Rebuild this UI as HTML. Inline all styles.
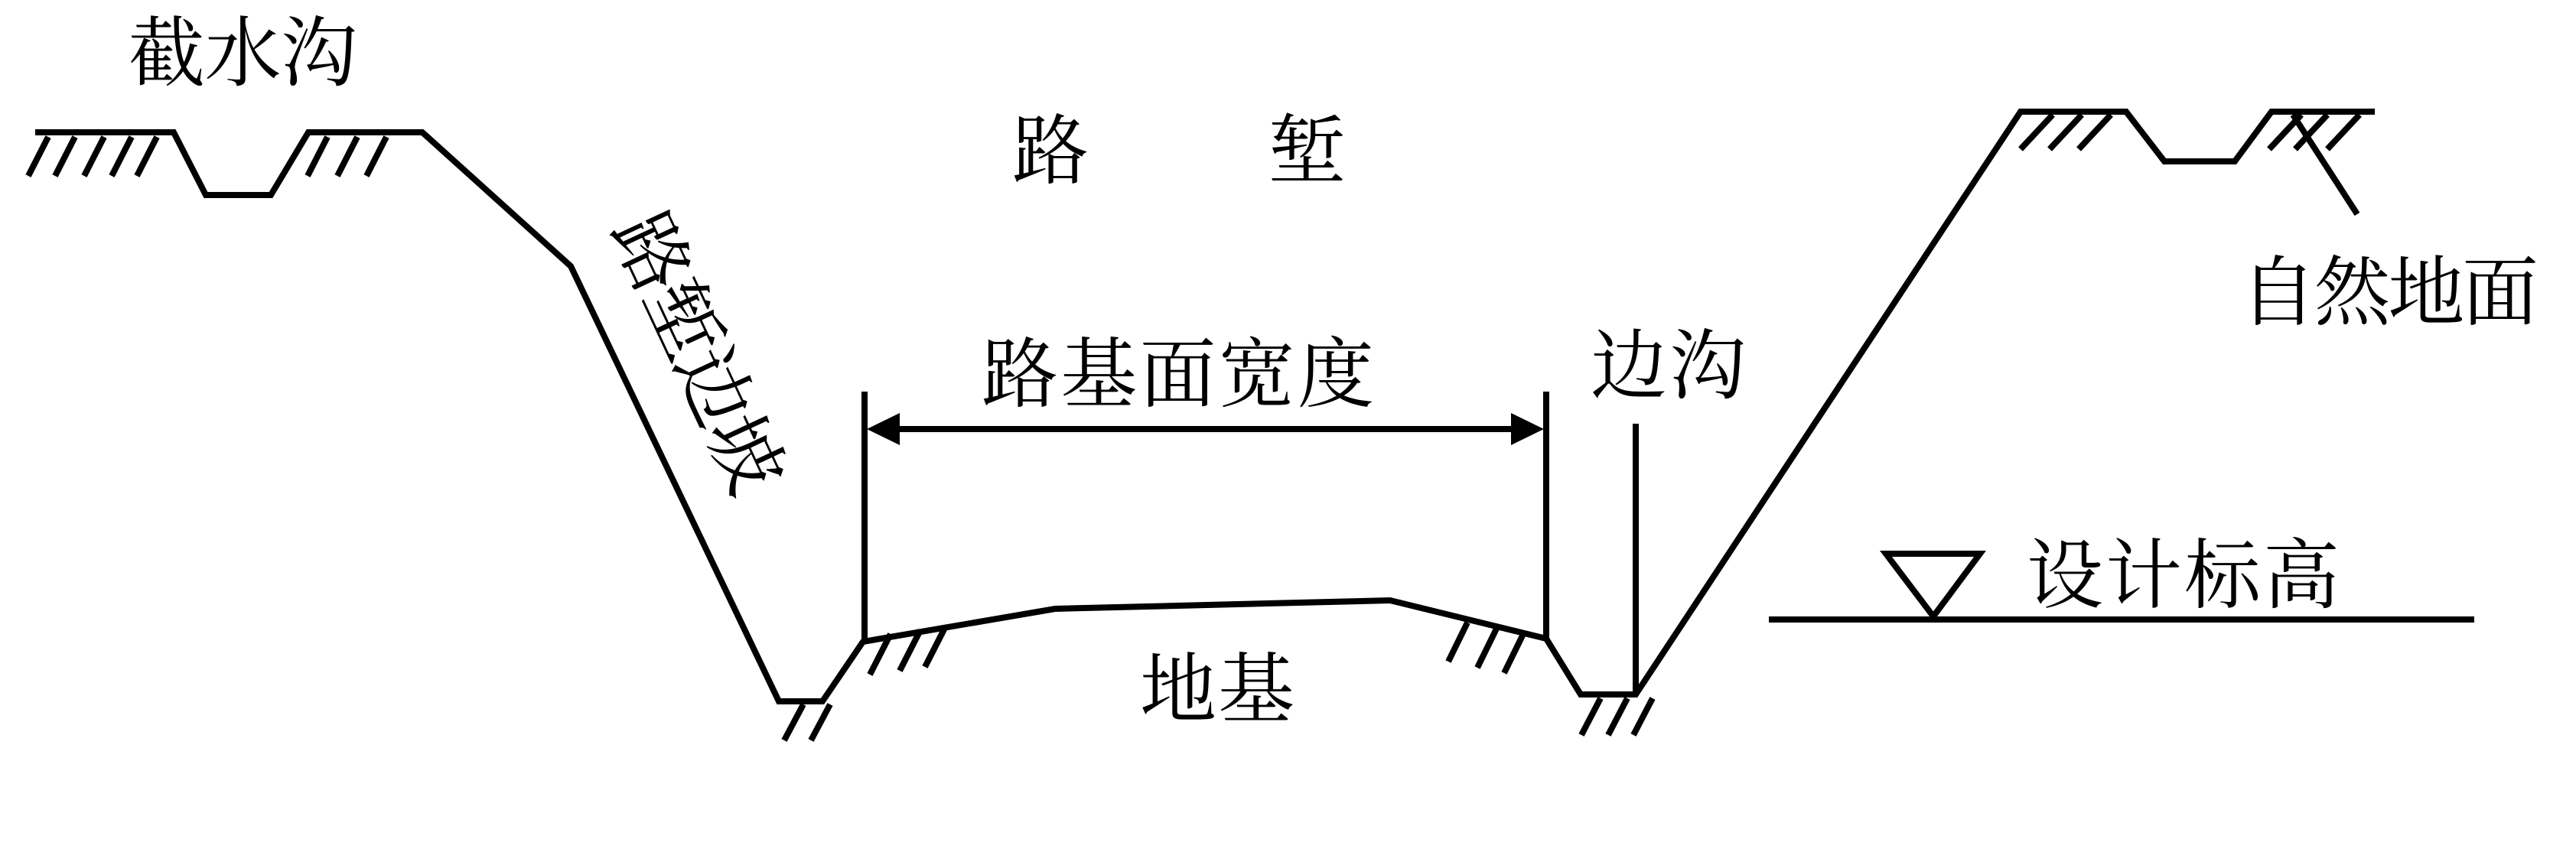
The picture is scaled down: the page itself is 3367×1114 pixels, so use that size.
<!DOCTYPE html>
<html><head><meta charset="utf-8"><style>
html,body{margin:0;padding:0;background:#fff;}
svg{display:block;}
text{font-family:"Liberation Serif","Noto Serif CJK SC",serif;font-size:100px;fill:#000;}
</style></head><body>
<svg width="3367" height="1114" viewBox="0 0 3367 1114" xmlns="http://www.w3.org/2000/svg">
<g fill="none" stroke="#000" stroke-width="8" stroke-linejoin="miter" stroke-linecap="butt">
<polyline points="46,173 227,173 269,255 354,255 403,173 552,173 746,348 1018,917 1075,917 1128,839 1379,796 1817,785 2021,835 2066,908 2138,908 2641,146 2779,146 2829,211 2921,211 2969,146 3104,146"/>
<line x1="63" y1="179" x2="37" y2="230"/>
<line x1="98" y1="179" x2="72" y2="230"/>
<line x1="136" y1="179" x2="110" y2="230"/>
<line x1="172" y1="179" x2="146" y2="230"/>
<line x1="205" y1="179" x2="179" y2="230"/>
<line x1="428" y1="179" x2="402" y2="230"/>
<line x1="467" y1="179" x2="441" y2="230"/>
<line x1="505" y1="179" x2="479" y2="230"/>
<line x1="1050" y1="921" x2="1025" y2="968"/>
<line x1="1085" y1="921" x2="1060" y2="968"/>
<line x1="1164" y1="829" x2="1137" y2="882"/>
<line x1="1203" y1="824" x2="1176" y2="877"/>
<line x1="1236" y1="819" x2="1209" y2="872"/>
<line x1="1918" y1="814" x2="1893" y2="865"/>
<line x1="1956" y1="822" x2="1931" y2="873"/>
<line x1="1991" y1="829" x2="1966" y2="880"/>
<line x1="2092" y1="913" x2="2067" y2="961"/>
<line x1="2127" y1="913" x2="2102" y2="961"/>
<line x1="2160" y1="913" x2="2135" y2="961"/>
<line x1="2683" y1="150" x2="2641" y2="195"/>
<line x1="2721" y1="150" x2="2679" y2="195"/>
<line x1="2759" y1="150" x2="2717" y2="195"/>
<line x1="3008" y1="150" x2="2966" y2="195"/>
<line x1="3042" y1="150" x2="3000" y2="195"/>
<line x1="3084" y1="150" x2="3042" y2="195"/>
<line x1="2997" y1="150" x2="3081" y2="280"/>
<line x1="1130" y1="512" x2="1130" y2="835"/>
<line x1="2021" y1="512" x2="2021" y2="835"/>
<line x1="2138" y1="554" x2="2138" y2="908"/>
<line x1="1170" y1="561" x2="1980" y2="561"/>
<line x1="2312" y1="810" x2="3234" y2="810"/>
<polygon points="2465,724 2588,724 2527,806"/>
</g>
<polygon points="1133,561 1176,540 1176,582" fill="#000"/>
<polygon points="2018,561 1975,540 1975,582" fill="#000"/>
<text x="168" y="104" textLength="299">截水沟</text>
<text x="1323" y="232">路</text>
<text x="1658" y="232">堑</text>
<text x="1283" y="524" textLength="513">路基面宽度</text>
<text x="1490" y="936" textLength="202">地基</text>
<text x="2079" y="513" textLength="203">边沟</text>
<text x="2928" y="417" textLength="390">自然地面</text>
<text x="2649" y="787" textLength="409">设计标高</text>
<text x="912" y="462" text-anchor="middle" dominant-baseline="central" textLength="390" transform="rotate(65 912 462)">路堑边坡</text>
</svg>
</body></html>
